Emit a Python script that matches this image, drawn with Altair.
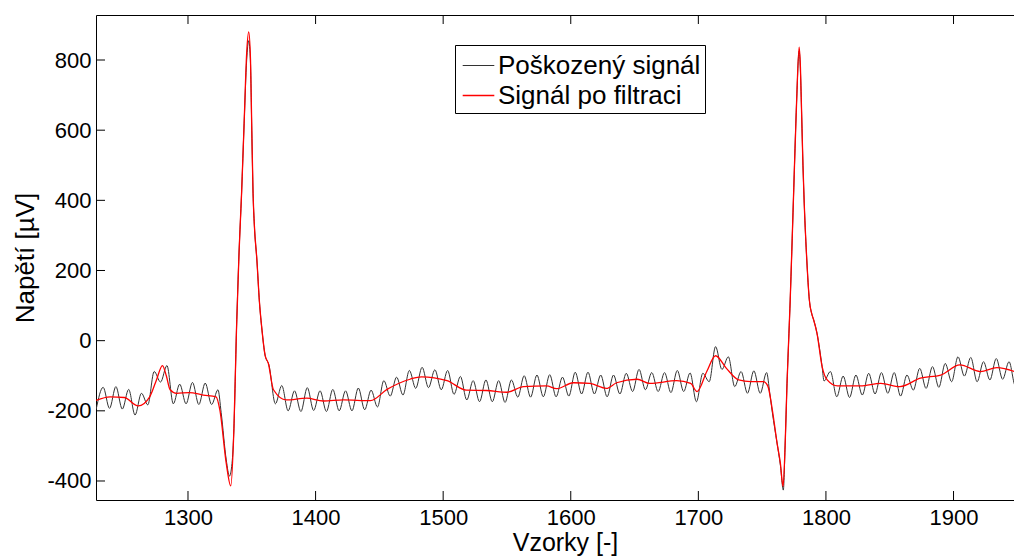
import altair as alt
import pandas as pd

# Filtered signal (red) - samples and values
filt_x = [1228, 1239, 1250, 1261, 1270, 1275, 1280, 1283, 1286, 1291, 1301, 1312, 1322, 1325, 1330,
          1333.5, 1336, 1338, 1340, 1342, 1344, 1346, 1347.6, 1349, 1350, 1351, 1352, 1354, 1356, 1358,
          1360.4, 1363, 1367, 1377, 1393, 1406, 1422, 1443, 1456, 1474, 1483, 1503, 1518, 1534, 1550,
          1563, 1581, 1589, 1602, 1615, 1628, 1636, 1652, 1662, 1683, 1694, 1699, 1706.6, 1713.5, 1722,
          1731.6, 1741, 1751, 1754.4, 1758, 1761.7, 1764.3, 1766.4, 1768, 1769.5, 1771, 1772, 1774.5,
          1777, 1779, 1780, 1781, 1782, 1783, 1785, 1787, 1789, 1790.4, 1793, 1797, 1801, 1809, 1827,
          1843, 1858, 1874, 1890, 1905, 1921, 1934, 1956]
filt_y = [-170, -160, -162, -186, -160, -115, -71, -100, -140, -150, -148, -155, -160, -198, -350,
          -414, -250, 30, 250, 420, 620, 820, 880, 800, 600, 420, 330, 230, 110, 30,
          -41, -65, -140, -169, -164, -172, -169, -171, -139, -110, -103, -114, -141, -142, -147,
          -131, -129, -137, -120, -122, -136, -120, -110, -122, -114, -122, -145, -88, -43, -79,
          -112, -117, -117, -129, -198, -292, -350, -416, -300, -122, 20, 116, 400,
          680, 837, 780, 640, 500, 390, 230, 116, 75, 59, 21, -74, -112, -129, -129,
          -122, -131, -107, -98, -69, -88, -77, -100]

# Corrupted signal (black) - extrema of the mains interference and QRS points
noisy_x = [1228, 1233.5, 1238.5, 1243.5, 1248.5, 1253.5, 1258.5, 1263.5, 1268.5, 1273.5, 1278.5,
           1283.5, 1288.5, 1293.5, 1298.5, 1303.5, 1308.5, 1313.5, 1318.5, 1323.5, 1326, 1330,
           1332.5, 1334.5, 1336, 1338, 1340, 1342, 1344, 1346, 1347.6, 1349, 1350, 1351, 1352,
           1354, 1356, 1358, 1360.4, 1363.5, 1368.5, 1373.5, 1378.5, 1383.5, 1388.5, 1393.5,
           1398.5, 1403.5, 1408.5, 1413.5, 1418.5, 1423.5, 1428.5, 1433.5, 1438.5, 1443.5, 1448.5,
           1453.5, 1458.5, 1463.5, 1468.5, 1473.5, 1478.5, 1483.5, 1488.5, 1493.5, 1498.5, 1503.5,
           1508.5, 1513.5, 1518.5, 1523.5, 1528.5, 1533.5, 1538.5, 1543.5, 1548.5, 1553.5, 1558.5,
           1563.5, 1568.5, 1573.5, 1578.5, 1583.5, 1588.5, 1593.5, 1598.5, 1603.5, 1608.5, 1613.5,
           1618.5, 1623.5, 1628.5, 1633.5, 1638.5, 1643.5, 1648.5, 1653.5, 1658.5, 1663.5, 1668.5,
           1673.5, 1678.5, 1683.5, 1688.5, 1693.5, 1698.5, 1703.5, 1708.5, 1713.5, 1718.5, 1723.5,
           1728.5, 1733.5, 1738.5, 1743.5, 1748.5, 1753.5, 1756, 1758, 1761.7, 1764.3, 1766.6,
           1768, 1769.5, 1771, 1772, 1774.5, 1777, 1779, 1780, 1781, 1782, 1783, 1785, 1787,
           1789, 1790.4, 1793, 1797, 1798.5, 1803.5, 1808.5, 1813.5, 1818.5, 1823.5, 1828.5,
           1833.5, 1838.5, 1843.5, 1848.5, 1853.5, 1858.5, 1863.5, 1868.5, 1873.5, 1878.5, 1883.5,
           1888.5, 1893.5, 1898.5, 1903.5, 1908.5, 1913.5, 1918.5, 1923.5, 1928.5, 1933.5, 1938.5,
           1943.5, 1948.5, 1953.5, 1958.5]
noisy_y = [-196, -133, -193, -131, -195, -139, -212, -150, -183, -88, -118,
           -71, -180, -124, -180, -119, -182, -121, -182, -140, -205, -340,
           -386, -350, -250, 30, 250, 420, 620, 800, 855, 790, 600, 420, 330,
           230, 110, 30, -41, -70, -180, -128, -200, -143, -202, -134,
           -199, -143, -202, -139, -200, -143, -200, -135, -197, -141, -189,
           -114, -158, -104, -155, -85, -136, -76, -134, -83, -140, -85,
           -153, -102, -169, -114, -174, -112, -174, -114, -176, -112, -161,
           -100, -161, -98, -160, -97, -160, -104, -158, -90, -152, -90,
           -152, -98, -160, -98, -152, -93, -145, -82, -140, -91, -145,
           -91, -148, -85, -145, -92, -174, -93, -117, -17, -82, -46,
           -131, -88, -150, -86, -150, -91, -150, -205, -292, -355, -426,
           -300, -122, 20, 116, 400, 680, 825, 770, 640, 500, 390, 230, 116,
           75, 59, 21, -74, -115, -88, -160, -101, -162, -98, -155,
           -93, -152, -91, -150, -91, -158, -98, -141, -79, -136, -74,
           -133, -65, -117, -46, -101, -48, -117, -60, -112, -51, -110,
           -60, -129, -70, -120]

series_names = ["Poškozený signál", "Signál po filtraci"]
series_colors = ["#333333", "#ff0000"]
series_widths = [1.0, 1.3]
x_ticks = [1300, 1400, 1500, 1600, 1700, 1800, 1900]
y_ticks = [-400, -200, 0, 200, 400, 600, 800]
x_domain = [1227.9, 1947.4]
y_domain = [-454.2, 928.3]

W, H = 918, 485
FONT = "Liberation Sans"

signals = pd.concat([
    pd.DataFrame({"x": noisy_x, "y": noisy_y, "s": series_names[0]}),
    pd.DataFrame({"x": filt_x, "y": filt_y, "s": series_names[1]}),
], ignore_index=True)
xt = pd.DataFrame({"x": x_ticks})
yt = pd.DataFrame({"y": y_ticks})

xs = alt.Scale(domain=x_domain, nice=False, zero=False)
ys = alt.Scale(domain=y_domain, nice=False, zero=False)
cs = alt.Scale(domain=series_names, range=series_colors)
ws = alt.Scale(domain=series_names, range=series_widths)

legend = alt.Legend(
    title=None, orient="none", legendX=359, legendY=30,
    symbolType="stroke", symbolSize=1000, symbolStrokeWidth=1,
    labelFont=FONT, labelFontSize=26, labelColor="black", labelLimit=500,
    labelOffset=3, symbolOffset=3, padding=4, rowPadding=0,
    strokeColor="black", fillColor="white", cornerRadius=0,
)

x_axis = alt.Axis(values=x_ticks, title="Vzorky [-]", domain=True, grid=False, ticks=False,
                  labelPadding=7, titlePadding=2, format="d", titleFontSize=25, titleX=469)
x_top_axis = alt.Axis(orient="top", values=x_ticks, title=None, domain=True, grid=False,
                      ticks=False, labels=False)
y_axis = alt.Axis(values=y_ticks, title="Napětí [µV]", domain=True, grid=False, ticks=False,
                  labelPadding=5, titlePadding=8, titleFontSize=26,
                  labelExpr="datum.value < 0 ? '-' + abs(datum.value) : '' + datum.value")

lines = alt.Chart(signals).mark_line(interpolate="monotone", clip=True).encode(
    x=alt.X("x:Q", scale=xs, axis=x_axis),
    y=alt.Y("y:Q", scale=ys, axis=y_axis),
    color=alt.Color("s:N", scale=cs, legend=legend),
    strokeWidth=alt.StrokeWidth("s:N", scale=ws, legend=None),
    order=alt.Order("x:Q"),
)

tick_bottom = alt.Chart(xt).mark_rule(color="black", strokeWidth=1).encode(
    x=alt.X("x:Q", scale=xs, axis=None), y=alt.value(H), y2=alt.value(H - 9))
tick_top = alt.Chart(xt).mark_rule(color="black", strokeWidth=1).encode(
    x=alt.X("x:Q", scale=xs, axis=x_top_axis), y=alt.value(0), y2=alt.value(9))
tick_left = alt.Chart(yt).mark_rule(color="black", strokeWidth=1).encode(
    y=alt.Y("y:Q", scale=ys), x=alt.value(0), x2=alt.value(9))

chart = alt.layer(lines, tick_bottom, tick_top, tick_left).resolve_axis(
    x="independent"
).properties(
    width=W, height=H,
    autosize=alt.AutoSizeParams(type="none"),
    padding={"left": 88, "top": 7, "right": 0, "bottom": 60},
    background="white",
).configure_view(stroke="transparent").configure_axis(
    labelFont=FONT, labelFontSize=22, labelColor="black",
    titleFont=FONT, titleFontWeight="normal", titleColor="black",
    domainColor="black", domainWidth=1,
)

chart.save("out.html", embed_options={"renderer": "svg", "actions": False})
